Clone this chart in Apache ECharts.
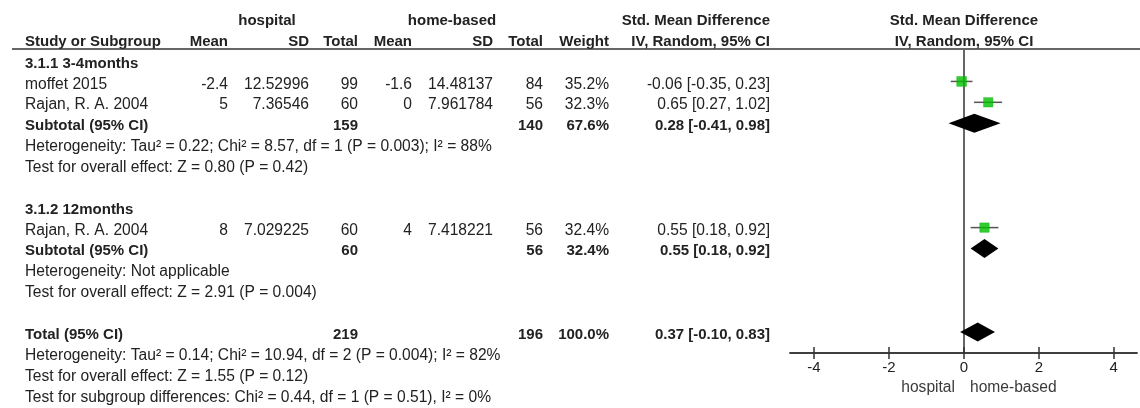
<!DOCTYPE html>
<html>
<head>
<meta charset="utf-8">
<script src="https://cdn.jsdelivr.net/npm/echarts@6/dist/echarts.min.js"></script>
<style>
html,body{margin:0;padding:0;background:#fff;}
#chart{width:1140px;height:408px;}
</style>
</head>
<body>
<div id="chart"></div>
<script>
// ---------- data ----------
const studyNames = ['moffet 2015', 'Rajan, R. A. 2004', 'Rajan, R. A. 2004'];
const studyRows = [3, 4, 10];
const hospMean = [-2.4, 5, 8];
const hospSD = ['12.52996', '7.36546', '7.029225'];
const hospN = [99, 60, 60];
const homeMean = [-1.6, 0, 4];
const homeSD = ['14.48137', '7.961784', '7.418221'];
const homeN = [84, 56, 56];
const studyWeight = [35.2, 32.3, 32.4];
const studySMD = [-0.06, 0.65, 0.55];
const studyLo = [-0.35, 0.27, 0.18];
const studyHi = [0.23, 1.02, 0.92];

const poolNames = ['Subtotal (95% CI)', 'Subtotal (95% CI)', 'Total (95% CI)'];
const poolRows = [5, 11, 15];
const poolHospN = [159, 60, 219];
const poolHomeN = [140, 56, 196];
const poolWeight = [67.6, 32.4, 100.0];
const poolSMD = [0.28, 0.55, 0.37];
const poolLo = [-0.41, 0.18, -0.10];
const poolHi = [0.98, 0.92, 0.83];

const groupNames = ['3.1.1 3-4months', '3.1.2 12months'];
const groupRows = [2, 9];

const noteRows = [6, 7, 12, 13, 16, 17, 18];
const noteTexts = [
  'Heterogeneity: Tau\u00b2 = 0.22; Chi\u00b2 = 8.57, df = 1 (P = 0.003); I\u00b2 = 88%',
  'Test for overall effect: Z = 0.80 (P = 0.42)',
  'Heterogeneity: Not applicable',
  'Test for overall effect: Z = 2.91 (P = 0.004)',
  'Heterogeneity: Tau\u00b2 = 0.14; Chi\u00b2 = 10.94, df = 2 (P = 0.004); I\u00b2 = 82%',
  'Test for overall effect: Z = 1.55 (P = 0.12)',
  'Test for subgroup differences: Chi\u00b2 = 0.44, df = 1 (P = 0.51), I\u00b2 = 0%'
];

const groupHeader = ['hospital', 'home-based'];
const colHeaders = ['Mean', 'SD', 'Total', 'Mean', 'SD', 'Total', 'Weight', 'IV, Random, 95% CI'];
const effectTitle = 'Std. Mean Difference';
const methodTitle = 'IV, Random, 95% CI';
const xTicks = [-4, -2, 0, 2, 4];
const favourLabels = ['hospital', 'home-based'];

// ---------- layout ----------
const ROW0 = 18.8, ROWH = 20.88;
const GRID_TOP = 49, GRID_BOTTOM = 353;
const rowY = k => ROW0 + ROWH * k + 2.8;
const colRight = [228, 309, 358, 412, 493, 543, 609, 770];
const FONT = '"Liberation Sans", Arial, sans-serif';
const FS_BOLD = 15;
const FS = 15.6;
const TXT = '#222';

function fmtCI(e, l, h) {
  return e.toFixed(2) + ' [' + l.toFixed(2) + ', ' + h.toFixed(2) + ']';
}
function txt(x, y, s, align, bold, color) {
  return {
    type: 'text', x: x, y: y, silent: true,
    style: {
      text: s, font: bold ? ('bold ' + FS_BOLD + 'px ' + FONT) : (FS + 'px ' + FONT),
      fill: color || TXT, textAlign: align, textVerticalAlign: 'middle',
      align: align, verticalAlign: 'middle'
    }
  };
}

const g = [];
// headers
g.push(txt(267, rowY(0) - 1, groupHeader[0], 'center', true));
g.push(txt(452, rowY(0) - 1, groupHeader[1], 'center', true));
g.push(txt(770, rowY(0) - 1, effectTitle, 'right', true));
g.push(txt(964, rowY(0) - 1, effectTitle, 'center', true));
g.push(txt(25, rowY(1) - 0.5, 'Study or Subgroup', 'left', true));
colHeaders.forEach((h, i) => g.push(txt(colRight[i], rowY(1) - 0.5, h, 'right', true)));
g.push(txt(964, rowY(1) - 0.5, methodTitle, 'center', true));
g.push({ type: 'line', silent: true, shape: { x1: 12, y1: GRID_TOP, x2: 1140, y2: GRID_TOP },
  style: { stroke: '#333', lineWidth: 1.5 } });

groupNames.forEach((n, i) => g.push(txt(25, rowY(groupRows[i]), n, 'left', true)));
studyNames.forEach((n, i) => {
  const y = rowY(studyRows[i]);
  const vals = [String(hospMean[i]), hospSD[i], String(hospN[i]), String(homeMean[i]), homeSD[i],
    String(homeN[i]), studyWeight[i].toFixed(1) + '%', fmtCI(studySMD[i], studyLo[i], studyHi[i])];
  g.push(txt(25, y, n, 'left', false));
  vals.forEach((v, j) => g.push(txt(colRight[j], y, v, 'right', false)));
});
poolNames.forEach((n, i) => {
  const y = rowY(poolRows[i]);
  g.push(txt(25, y, n, 'left', true));
  g.push(txt(colRight[2], y, String(poolHospN[i]), 'right', true));
  g.push(txt(colRight[5], y, String(poolHomeN[i]), 'right', true));
  g.push(txt(colRight[6], y, poolWeight[i].toFixed(1) + '%', 'right', true));
  g.push(txt(colRight[7], y, fmtCI(poolSMD[i], poolLo[i], poolHi[i]), 'right', true));
});
noteTexts.forEach((t, i) => g.push(txt(25, rowY(noteRows[i]), t, 'left', false)));
g.push(txt(955, 388, favourLabels[0], 'right', false, '#3a3a3a'));
g.push(txt(970, 388, favourLabels[1], 'left', false, '#3a3a3a'));

const yMin = (GRID_TOP - ROW0) / ROWH;
const yMax = (GRID_BOTTOM - ROW0) / ROWH;

const xAxisBase = {
  type: 'value', min: -4.64, max: 4.62, position: 'bottom',
  axisLine: { show: true, onZero: false, lineStyle: { color: '#333', width: 1.5 } },
  splitLine: { show: false }
};

const option = {
  animation: false,
  grid: { left: 790, width: 347, top: GRID_TOP, height: GRID_BOTTOM - GRID_TOP, containLabel: false },
  xAxis: [
    Object.assign({}, xAxisBase, {
      axisTick: { show: true, customValues: xTicks, length: 6, lineStyle: { color: '#333', width: 1.5 } },
      axisLabel: { show: true, customValues: xTicks, margin: 7, color: TXT, fontSize: 15, fontFamily: FONT }
    }),
    Object.assign({}, xAxisBase, {
      axisTick: { show: true, inside: true, customValues: xTicks, length: 6, lineStyle: { color: '#333', width: 1.5 } },
      axisLabel: { show: false }
    })
  ],
  yAxis: {
    type: 'value', inverse: true, min: yMin, max: yMax,
    axisLine: { show: true, onZero: true, lineStyle: { color: '#666', width: 2 } },
    axisTick: { show: false }, axisLabel: { show: false }, splitLine: { show: false }
  },
  series: [
    {
      type: 'custom', xAxisIndex: 0, yAxisIndex: 0, z: 2,
      encode: { x: [0, 1], y: 2 },
      data: studyRows.map((r, i) => [studyLo[i], studyHi[i], r]),
      renderItem: function (params, api) {
        const a = api.coord([api.value(0), api.value(2)]);
        const b = api.coord([api.value(1), api.value(2)]);
        return { type: 'line', shape: { x1: a[0], y1: a[1], x2: b[0], y2: b[1] },
          style: { stroke: '#555', lineWidth: 1.5 } };
      }
    },
    {
      type: 'scatter', xAxisIndex: 0, yAxisIndex: 0, z: 3, symbol: 'rect',
      data: studyRows.map((r, i) => [studySMD[i], r, studyWeight[i]]),
      symbolSize: function (v) { return Math.sqrt(v[2]) * 1.65; },
      itemStyle: { color: '#00c000', borderColor: '#00b000', borderWidth: 0.5 }
    },
    {
      type: 'custom', xAxisIndex: 0, yAxisIndex: 0, z: 3,
      encode: { x: [0, 1, 2], y: 3 },
      data: poolRows.map((r, i) => [poolLo[i], poolSMD[i], poolHi[i], r]),
      renderItem: function (params, api) {
        const r = api.value(3);
        const l = api.coord([api.value(0), r]);
        const c = api.coord([api.value(1), r]);
        const h = api.coord([api.value(2), r]);
        const hh = 9.5;
        return { type: 'polygon',
          shape: { points: [[l[0], c[1]], [c[0], c[1] - hh], [h[0], c[1]], [c[0], c[1] + hh]] },
          style: { fill: '#000' } };
      }
    }
  ],
  graphic: g
};

const chart = echarts.init(document.getElementById('chart'));
chart.setOption(option);
</script>
</body>
</html>
